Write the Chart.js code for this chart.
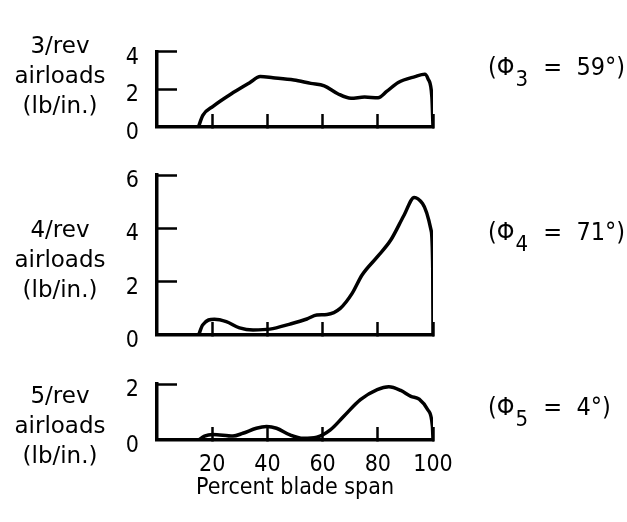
<!DOCTYPE html>
<html>
<head>
<meta charset="utf-8">
<script src="https://cdn.jsdelivr.net/npm/chart.js@4"></script>
<style>
  body { margin: 0; background: #fff; }
  #wrap { position: relative; width: 627px; height: 522px; }
  canvas { position: absolute; left: 0; top: 0; }
</style>
</head>
<body>
<div id="wrap">
  <canvas id="rev3" width="627" height="522"></canvas>
  <canvas id="rev4" width="627" height="522"></canvas>
  <canvas id="rev5" width="627" height="522"></canvas>
</div>
<script>
// values
const span3 = [15, 16.6, 20.3, 27.6, 33.7, 37.4, 42, 49.6, 55.7, 60.6, 65.5, 70.3, 75.2, 80.1, 83.2, 87.4, 93.5, 97, 98.2, 99.6, 100];
const load3 = [0, 0.62, 1.1, 1.83, 2.37, 2.68, 2.62, 2.5, 2.32, 2.19, 1.77, 1.53, 1.59, 1.56, 1.89, 2.37, 2.68, 2.8, 2.56, 1.59, 0];

const span4 = [15.1, 16.5, 20.8, 25.1, 29.9, 34.8, 40.9, 48.2, 54.3, 57.9, 61.6, 66.4, 70.7, 74.3, 79.8, 84.7, 89.5, 93.2, 96.2, 99.3, 99.9, 100];
const load4 = [0, 0.37, 0.59, 0.5, 0.27, 0.19, 0.22, 0.41, 0.6, 0.75, 0.77, 1.0, 1.56, 2.25, 2.93, 3.56, 4.49, 5.16, 4.93, 3.93, 2.5, 0];

const span5 = [15.1, 17.2, 20.2, 27.5, 31.1, 36, 39.7, 43.3, 48.2, 53, 57.9, 62.8, 67.6, 73.7, 79.8, 84, 88.3, 92, 95, 98.1, 99.8, 100];
const load5 = [0, 0.14, 0.2, 0.14, 0.24, 0.42, 0.48, 0.42, 0.18, 0.06, 0.1, 0.36, 0.84, 1.44, 1.8, 1.9, 1.77, 1.56, 1.46, 1.08, 0.48, 0];

const spanTicks = [0, 20, 40, 60, 80, 100];
const harmonics = ['3', '4', '5'];
const phaseDeg = [59, 71, 4];
const loadMax = [4, 6, 2];

const FONT = "'DejaVu Sans Condensed', 'Liberation Sans Narrow', 'DejaVu Sans', sans-serif";
const WIDE = "'DejaVu Sans', sans-serif";
Chart.defaults.font.family = FONT;
Chart.defaults.color = '#000';

// no tick mark at the origin, the axis line is already there
const tickColor = c => (c.tick && c.tick.value === 0) ? 'rgba(0,0,0,0)' : '#000';

// left title + phase note for each panel
const sideText = {
  id: 'sideText',
  afterDraw(chart, args, opts) {
    const ctx = chart.ctx;
    ctx.save();
    ctx.fillStyle = '#000';
    ctx.textAlign = 'center';
    ctx.font = '23px ' + WIDE;
    opts.title.forEach((line, i) => ctx.fillText(line, 60, opts.titleY + i * 30));

    ctx.textAlign = 'left';
    let x = 488;
    ctx.font = '25px ' + FONT;
    ctx.fillText('(\u03A6', x, opts.noteY);
    x += ctx.measureText('(\u03A6').width + 1;
    ctx.font = '22px ' + FONT;
    ctx.fillText(opts.sub, x, opts.noteY + 11);
    x += ctx.measureText(opts.sub).width;
    ctx.font = '25px ' + FONT;
    ctx.fillText('  =  ' + opts.deg + '\u00B0)', x + 1, opts.noteY);
    ctx.restore();
  }
};

function makePanel(id, span, load, i, padTop, padBottom, showX, titleY, noteY) {
  return new Chart(document.getElementById(id), {
    type: 'line',
    data: {
      datasets: [{
        data: span.map((x, k) => ({ x: x, y: load[k] })),
        borderColor: '#000',
        borderWidth: 3.5,
        pointRadius: 0,
        fill: false,
        cubicInterpolationMode: 'monotone'
      }]
    },
    options: {
      responsive: false,
      animation: false,
      layout: { padding: { left: 0, right: 194, top: padTop, bottom: padBottom } },
      plugins: {
        legend: { display: false },
        tooltip: { enabled: false },
        sideText: {
          title: [harmonics[i] + '/rev', 'airloads', '(lb/in.)'],
          titleY: titleY,
          noteY: noteY,
          sub: harmonics[i],
          deg: phaseDeg[i]
        }
      },
      scales: {
        x: {
          type: 'linear',
          min: 0,
          max: 100,
          afterBuildTicks: s => { s.ticks = spanTicks.map(v => ({ value: v })); },
          afterFit: s => { s.height = showX ? 82 : 0; },
          grid: { drawOnChartArea: false, drawTicks: true, tickLength: -13, tickWidth: 2.5, color: tickColor },
          border: { color: '#000', width: 3.5 },
          ticks: {
            display: showX,
            padding: 24,
            maxRotation: 0,
            font: { size: 23 },
            callback: v => v === 0 ? '' : v
          },
          title: {
            display: showX,
            text: 'Percent blade span',
            font: { size: 23 },
            padding: { top: 0, bottom: 20 }
          }
        },
        y: {
          min: 0,
          max: loadMax[i],
          afterFit: s => { s.width = 157; },
          grid: { drawOnChartArea: false, drawTicks: true, tickLength: -20, tickWidth: 2.5, color: tickColor },
          border: { color: '#000', width: 3.5 },
          ticks: { stepSize: 2, padding: 38, labelOffset: 6, font: { size: 23 } }
        }
      }
    },
    plugins: [sideText]
  });
}

makePanel('rev3', span3, load3, 0, 17, 395, false, 53, 75);
makePanel('rev4', span4, load4, 1, 175, 187, false, 237, 240);
makePanel('rev5', span5, load5, 2, 384, 0, true, 403, 415);
</script>
</body>
</html>
